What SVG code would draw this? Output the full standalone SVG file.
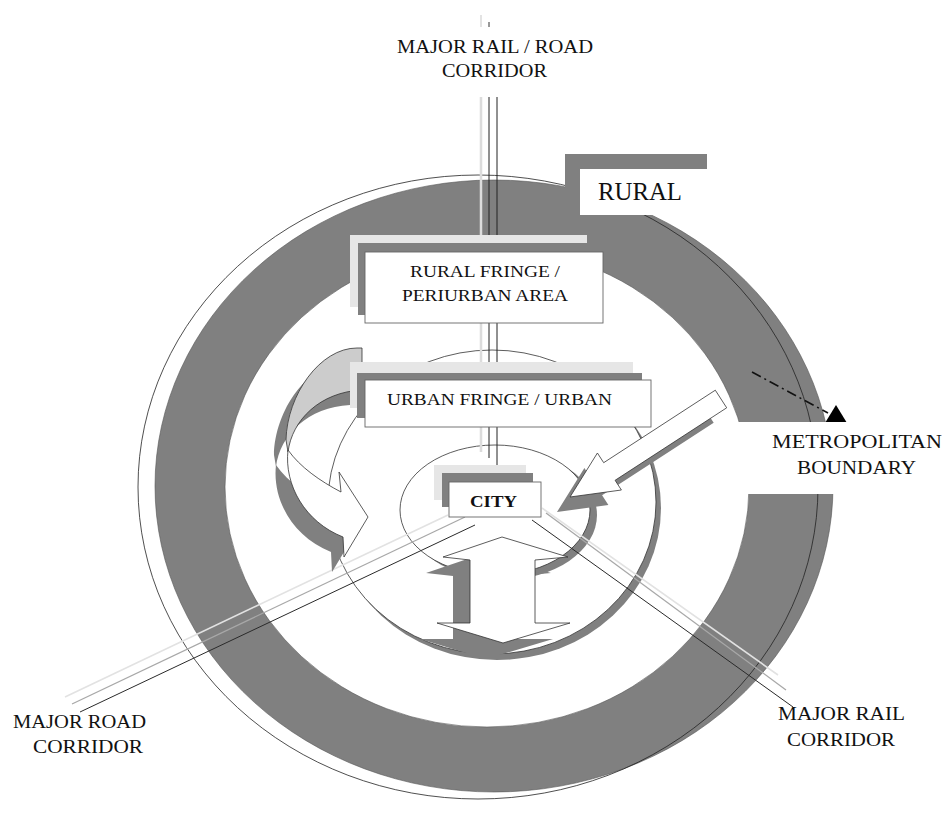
<svg xmlns="http://www.w3.org/2000/svg" width="943" height="814" viewBox="0 0 943 814">
<style>
text{font-family:"Liberation Serif","DejaVu Serif","Times New Roman",serif;fill:#111;}
.g{fill:#808080;}
.lt{fill:#e6e6e6;}
.wb{fill:#fff;stroke:#666;stroke-width:0.9;}
.ol{fill:none;stroke:#222;stroke-width:0.8;}
.wo{fill:#fff;stroke:#333;stroke-width:0.8;}
</style>
<rect width="943" height="814" fill="#fff"/>
<g id="ring">
<path class="g" fill-rule="evenodd" stroke="#555" stroke-width="0.6" d="M155,486 A339,306 0 1,0 833,486 A339,306 0 1,0 155,486 Z M225,487 A262,240 0 1,0 749,487 A262,240 0 1,0 225,487 Z"/>
<ellipse class="ol" cx="478" cy="487" rx="340" ry="312"/>
</g>
<g id="urban-ring">
<ellipse class="g" cx="497" cy="508" rx="164" ry="152"/>
<ellipse class="wo" cx="492" cy="502" rx="164" ry="152"/>
</g>
<g id="city-ring">
<ellipse class="g" cx="502" cy="515" rx="95" ry="65"/>
<ellipse class="wo" cx="495" cy="510" rx="95" ry="65"/>
</g>
<g id="connectors" fill="none">
<line x1="481" y1="15" x2="481" y2="27" stroke="#e3e3e3" stroke-width="2"/>
<line x1="489" y1="22" x2="489" y2="27" stroke="#333" stroke-width="1"/>
<line x1="481" y1="97" x2="481" y2="452" stroke="#dcdcdc" stroke-width="2.5"/>
<line x1="489" y1="97" x2="489" y2="458" stroke="#222" stroke-width="1"/>
<line x1="497" y1="97" x2="497" y2="466" stroke="#222" stroke-width="1"/>
<line x1="448" y1="515" x2="65" y2="697" stroke="#e2e2e2" stroke-width="1.6"/>
<line x1="465" y1="517" x2="72" y2="704" stroke="#a8a8a8" stroke-width="1.3"/>
<line x1="475" y1="525" x2="80" y2="712" stroke="#2a2a2a" stroke-width="1"/>
<line x1="542" y1="508" x2="778" y2="675" stroke="#e2e2e2" stroke-width="1.6"/>
<line x1="546" y1="513" x2="786" y2="690" stroke="#a8a8a8" stroke-width="1.3"/>
<line x1="532" y1="520" x2="793" y2="707" stroke="#2a2a2a" stroke-width="1"/>
<line x1="752" y1="372" x2="828" y2="413" stroke="#111" stroke-width="1.6" stroke-dasharray="10 4 2 4"/>
<polygon points="825,423 847,423 836,405" fill="#000"/>
</g>
<g id="down-arrow">
<path class="g" transform="translate(-17,16)" d="M443,557 L502,537 L568,557 L535,560 L535,623 L570,623 L503,643 L437,623 L470,623 L470,560 Z"/>
<path class="wo" d="M443,557 L502,537 L568,557 L535,560 L535,623 L570,623 L503,643 L437,623 L470,623 L470,560 Z"/>
</g>
<g id="curved-arrow">
<g transform="translate(-12,15)" class="g">
<path d="M362,348 L357,348 C320,348 287,395 286,440 L288,452 C292,420 320,392 362,390 Z"/>
<path d="M288,450 C284,485 305,522 343,537 L344,557 L368,517 L339,472 L341,492 C320,481 300,467 288,450 Z"/>
</g>
<path fill="#cccccc" stroke="#333" stroke-width="0.8" d="M362,348 L357,348 C320,348 287,395 286,440 L288,452 C292,420 320,392 362,390 Z"/>
<path class="wo" d="M288,450 C284,485 305,522 343,537 L344,557 L368,517 L339,472 L341,492 C320,481 300,467 288,450 Z"/>
</g>
<g id="straight-arrow">
<polygon class="g" transform="translate(-13,15)" points="715.3,390.2 603.7,462.7 597.4,453 570,497 621.4,490 615.1,480.3 726.7,407.8"/>
<polygon class="wo" points="715.3,390.2 603.7,462.7 597.4,453 570,497 621.4,490 615.1,480.3 726.7,407.8"/>
</g>
<g id="rural-label">
<rect class="g" x="565" y="154" width="142" height="50"/>
<rect fill="#fff" x="580" y="169" width="150" height="46"/>
<text x="598" y="200" font-family="Liberation Serif, DejaVu Serif, serif" font-size="25" textLength="84" lengthAdjust="spacingAndGlyphs">RURAL</text>
</g>
<g id="metro-label">
<rect fill="#fff" x="738" y="422" width="205" height="72"/>
<text x="772" y="448" font-family="Liberation Serif, DejaVu Serif, serif" font-size="19" textLength="170" lengthAdjust="spacingAndGlyphs">METROPOLITAN</text>
<text x="797" y="474" font-family="Liberation Serif, DejaVu Serif, serif" font-size="19" textLength="119" lengthAdjust="spacingAndGlyphs">BOUNDARY</text>
</g>
<g id="rural-fringe">
<rect class="lt" x="350" y="235" width="237" height="72"/>
<rect class="g" x="358" y="243" width="237" height="72"/>
<rect class="wb" x="365" y="252" width="238" height="71"/>
<text x="410" y="277" font-family="Liberation Serif, DejaVu Serif, serif" font-size="16" textLength="150" lengthAdjust="spacingAndGlyphs">RURAL FRINGE /</text>
<text x="402" y="301" font-family="Liberation Serif, DejaVu Serif, serif" font-size="16" textLength="166" lengthAdjust="spacingAndGlyphs">PERIURBAN AREA</text>
</g>
<g id="urban-fringe">
<rect class="lt" x="350" y="362" width="283" height="46"/>
<rect class="g" x="357" y="373" width="285" height="45"/>
<rect class="wb" x="365" y="380" width="286" height="47"/>
<text x="387" y="405" font-family="Liberation Serif, DejaVu Serif, serif" font-size="17" textLength="225" lengthAdjust="spacingAndGlyphs">URBAN FRINGE / URBAN</text>
</g>
<g id="city">
<rect class="lt" x="434" y="465" width="92" height="35"/>
<rect class="g" x="442" y="473" width="91" height="34"/>
<rect class="wb" x="449" y="482" width="92" height="35"/>
<text x="470" y="507" font-family="Liberation Serif, DejaVu Serif, serif" font-size="17" font-weight="bold" textLength="47" lengthAdjust="spacingAndGlyphs">CITY</text>
</g>
<g id="labels" font-family="Liberation Serif, DejaVu Serif, serif">
<text x="397" y="53" font-size="18" textLength="196" lengthAdjust="spacingAndGlyphs">MAJOR RAIL / ROAD</text>
<text x="442" y="77" font-size="18" textLength="105" lengthAdjust="spacingAndGlyphs">CORRIDOR</text>
<text x="13" y="728" font-size="18" textLength="133" lengthAdjust="spacingAndGlyphs">MAJOR ROAD</text>
<text x="33" y="753" font-size="18" textLength="110" lengthAdjust="spacingAndGlyphs">CORRIDOR</text>
<text x="778" y="720" font-size="18" textLength="127" lengthAdjust="spacingAndGlyphs">MAJOR RAIL</text>
<text x="787" y="746" font-size="18" textLength="108" lengthAdjust="spacingAndGlyphs">CORRIDOR</text>
</g>
</svg>
